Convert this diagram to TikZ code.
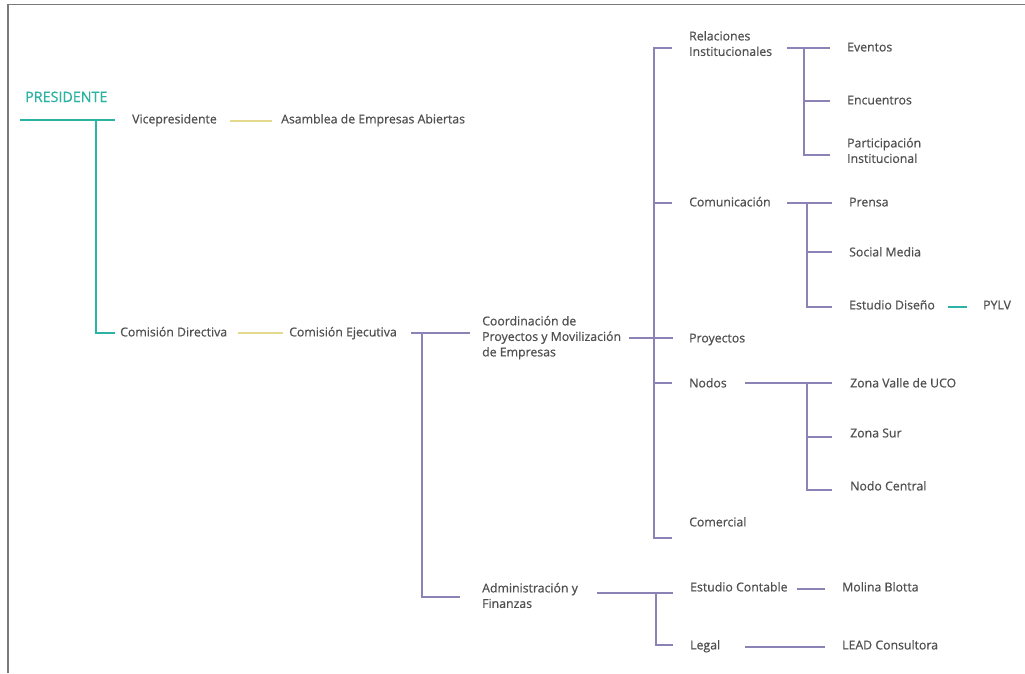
\documentclass[tikz,border=0pt]{standalone}
\usepackage{fontspec}
\setmainfont{Open Sans}
\newfontfamily\lblfont{Open Sans}[FakeBold=0.6]
\definecolor{txt}{HTML}{505050}
\definecolor{tealc}{HTML}{2BB3A3}
\definecolor{yel}{HTML}{E3DA8E}
\definecolor{pur}{HTML}{8C82B6}
\definecolor{framec}{HTML}{7A7A7A}
\newcommand\twol[2]{\begin{tabular}[t]{@{}l@{}}#1\\#2\end{tabular}}
\newcommand\threel[3]{\begin{tabular}[t]{@{}l@{}}#1\\#2\\#3\end{tabular}}
\begin{document}
\begin{tikzpicture}[x=1pt,y=-1pt,
  lbl/.style={anchor=base west,inner sep=0pt,font=\lblfont\fontsize{12.3}{15.5}\selectfont,text=txt},
  tl/.style={draw=tealc,line width=1.3pt},
  yl/.style={draw=yel,line width=1.3pt},
  pl/.style={draw=pur,line width=1.3pt},
  framel/.style={draw=framec,line width=1.6pt}]
\useasboundingbox (0,0) rectangle (1025,673);
\fill[white] (0,0) rectangle (1025,673);
\draw[framel] (8,673) -- (8,4.5) -- (1025,4.5);

% nodes (x, centre y + 4.4)
\node[lbl,text=tealc,font=\lblfont\fontsize{14.3}{15.5}\selectfont] (pres) at (25,102) {PRESIDENTE};
\node[lbl] (vice) at (132,123.4) {Vicepresidente};
\node[lbl] (asam) at (281,123.4) {Asamblea de Empresas Abiertas};
\node[lbl] (cdir) at (120,336.4) {Comisión Directiva};
\node[lbl] (ceje) at (289,336.4) {Comisión Ejecutiva};
\node[lbl] (coord) at (482,325.4) {\threel{Coordinación de}{Proyectos y Movilización}{de Empresas}};
\node[lbl] (admin) at (482,592.4) {\twol{Administración y}{Finanzas}};
\node[lbl] (rel) at (689,40.4) {\twol{Relaciones}{Institucionales}};
\node[lbl] (com) at (689,206.4) {Comunicación};
\node[lbl] (proy) at (689,342.4) {Proyectos};
\node[lbl] (nodos) at (689,387.4) {Nodos};
\node[lbl] (comer) at (689,526.4) {Comercial};
\node[lbl] (even) at (847,51.4) {Eventos};
\node[lbl] (encu) at (847,104.4) {Encuentros};
\node[lbl] (parti) at (847,147.4) {\twol{Participación}{Institucional}};
\node[lbl] (prensa) at (849,206.4) {Prensa};
\node[lbl] (social) at (849,256.4) {Social Media};
\node[lbl] (estd) at (849,309.4) {Estudio Diseño};
\node[lbl] (pylv) at (983,309.4) {PYLV};
\node[lbl] (zvalle) at (850,387.4) {Zona Valle de UCO};
\node[lbl] (zsur) at (850,437.4) {Zona Sur};
\node[lbl] (ncen) at (850,490.4) {Nodo Central};
\node[lbl] (econt) at (690,591.4) {Estudio Contable};
\node[lbl] (molina) at (842,591.4) {Molina Blotta};
\node[lbl] (legal) at (690,649.4) {Legal};
\node[lbl] (lead) at (842,649.4) {LEAD Consultora};

% junction coordinates
\coordinate (p0) at (20,120);   \coordinate (p1) at (115,120);
\coordinate (pj) at (96,120);   \coordinate (p2) at (115,333);
\coordinate (v0) at (230,121);  \coordinate (v1) at (272,121);
\coordinate (d0) at (238,333);  \coordinate (d1) at (283,333);
\coordinate (e0) at (411,333);  \coordinate (e1) at (470,333);
\coordinate (ej) at (422,333);  \coordinate (e2) at (460,597);
\coordinate (c0) at (629,338);  \coordinate (c1) at (673,338);
\coordinate (mt) at (654,48);   \coordinate (mb) at (654,538);
\coordinate (t1) at (672,48);   \coordinate (t2) at (672,203);
\coordinate (t3) at (672,383);  \coordinate (t4) at (672,538);
\coordinate (r0) at (787,48);   \coordinate (r1) at (830,48);
\coordinate (rj) at (804,48);   \coordinate (r2) at (830,101);
\coordinate (r3) at (830,155);
\coordinate (k0) at (787,203);  \coordinate (k1) at (832,203);
\coordinate (kj) at (807,203);  \coordinate (k2) at (832,252);
\coordinate (k3) at (832,307);
\coordinate (s0) at (948,307);  \coordinate (s1) at (967,307);
\coordinate (n0) at (745,383);  \coordinate (n1) at (832,383);
\coordinate (nj) at (807,383);  \coordinate (n2) at (832,437);
\coordinate (n3) at (832,490);
\coordinate (a0) at (597,593);  \coordinate (a1) at (673,593);
\coordinate (aj) at (656,593);  \coordinate (a2) at (673,645);
\coordinate (m0) at (797,589);  \coordinate (m1) at (825,589);
\coordinate (l0) at (745,647);  \coordinate (l1) at (825,647);

% teal
\draw[tl] (p0) -- (p1);
\draw[tl] (pj) |- (p2);
\draw[tl] (s0) -- (s1);
% yellow
\draw[yl] (v0) -- (v1);
\draw[yl] (d0) -- (d1);
% purple
\draw[pl] (e0) -- (e1);
\draw[pl] (ej) |- (e2);
\draw[pl] (c0) -- (c1);
\draw[pl] (t1) -- (mt) -- (mb) -- (t4);
\draw[pl] (mt |- t2) -- (t2);
\draw[pl] (mt |- t3) -- (t3);
\draw[pl] (r0) -- (r1);
\draw[pl] (rj) |- (r3);
\draw[pl] (rj |- r2) -- (r2);
\draw[pl] (k0) -- (k1);
\draw[pl] (kj) |- (k3);
\draw[pl] (kj |- k2) -- (k2);
\draw[pl] (n0) -- (n1);
\draw[pl] (nj) |- (n3);
\draw[pl] (nj |- n2) -- (n2);
\draw[pl] (a0) -- (a1);
\draw[pl] (aj) |- (a2);
\draw[pl] (m0) -- (m1);
\draw[pl] (l0) -- (l1);
\end{tikzpicture}
\end{document}
